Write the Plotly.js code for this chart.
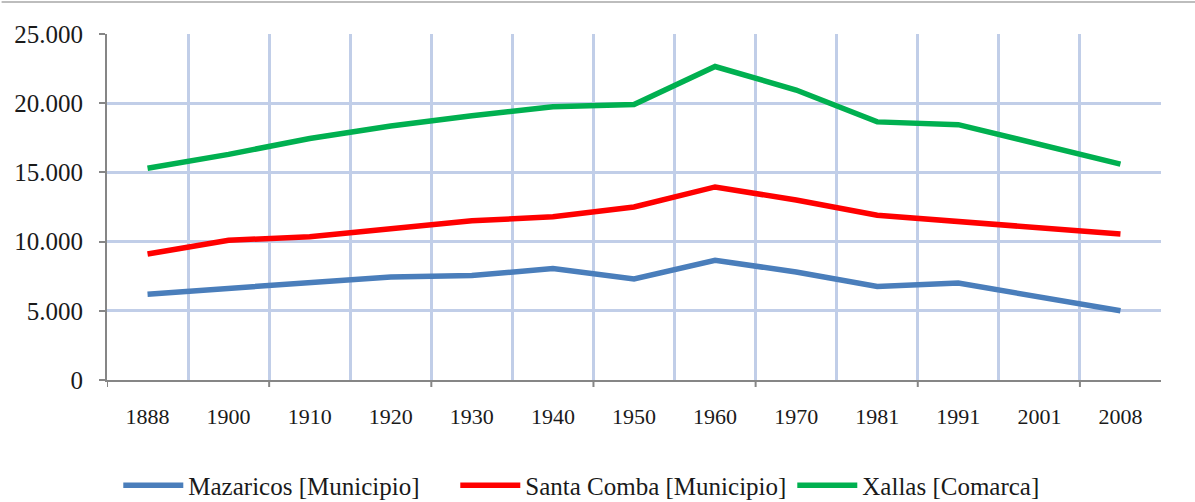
<!DOCTYPE html>
<html>
<head>
<meta charset="utf-8">
<script src="https://cdn.plot.ly/plotly-3.0.1.min.js"></script>
<style>
  html, body { margin: 0; padding: 0; background: #ffffff; }
  #chart { width: 1195px; height: 502px; }
</style>
</head>
<body>
<div id="chart"></div>
<script>
const years = ["1888", "1900", "1910", "1920", "1930", "1940", "1950", "1960", "1970", "1981", "1991", "2001", "2008"];
const mazaricos = [6200, 6600, 7000, 7450, 7550, 8050, 7300, 8650, 7800, 6750, 7000, 6000, 5000];
const santaComba = [9100, 10100, 10350, 10900, 11500, 11800, 12500, 13950, 13000, 11900, 11450, 11000, 10550];
const xallas = [15300, 16300, 17450, 18350, 19100, 19750, 19900, 22650, 20950, 18650, 18450, 17000, 15600];
const seriesNames = ["Mazaricos [Municipio]", "Santa Comba [Municipio]", "Xallas [Comarca]"];
const yTicks = [0, 5000, 10000, 15000, 20000, 25000];

const idx = years.map((_, i) => i);
const colors = ["#4a7ebb", "#ff0000", "#00b050"];
const data = [mazaricos, santaComba, xallas].map((vals, k) => ({
  type: "scatter",
  mode: "lines",
  x: idx,
  y: vals,
  name: seriesNames[k],
  line: { color: colors[k], width: 5.5 },
  hoverinfo: "skip"
}));

const fontFam = "Liberation Serif";
const gridCol = "#c1cee8";
const axisCol = "#868686";

const shapes = [];
for (let b = -0.5; b <= years.length - 0.5; b += 2) {
  shapes.push({
    type: "line", xref: "x", yref: "paper", ysizemode: "pixel", yanchor: 0,
    x0: b, x1: b, y0: 0, y1: -7,
    line: { color: axisCol, width: 2 }
  });
}
shapes.push({
  type: "line", xref: "paper", yref: "paper", ysizemode: "pixel", yanchor: 1,
  x0: -0.1, x1: 1.1, y0: 32, y1: 32,
  line: { color: "#bdbdbd", width: 2 }
});

const layout = {
  width: 1195,
  height: 502,
  margin: { l: 107, r: 34, t: 34, b: 122 },
  paper_bgcolor: "#ffffff",
  plot_bgcolor: "#ffffff",
  showlegend: true,
  font: { family: fontFam, color: "#1a1a1a", size: 22 },
  separators: ",.",
  xaxis: {
    range: [-0.5, years.length - 0.5],
    tickmode: "array",
    tickvals: idx,
    ticktext: years,
    ticks: "",
    showgrid: false,
    zeroline: false,
    showline: true,
    linecolor: axisCol,
    linewidth: 2,
    ticklabelstandoff: 16,
    tickfont: { family: fontFam, size: 22, color: "#1a1a1a" },
    minor: {
      tick0: -0.5,
      dtick: 1,
      showgrid: true,
      gridcolor: gridCol,
      gridwidth: 3,
      ticks: ""
    },
    fixedrange: true
  },
  yaxis: {
    range: [0, 25000],
    tickmode: "array",
    tickvals: yTicks,
    tickformat: ",d",
    ticks: "outside",
    ticklen: 6,
    tickwidth: 2,
    tickcolor: axisCol,
    showgrid: true,
    gridcolor: gridCol,
    gridwidth: 3,
    zeroline: false,
    showline: true,
    linecolor: axisCol,
    linewidth: 2,
    ticklabelstandoff: 11,
    tickfont: { family: fontFam, size: 25, color: "#1a1a1a" },
    fixedrange: true
  },
  legend: {
    orientation: "h",
    xref: "container",
    yref: "container",
    x: 0.522,
    xanchor: "center",
    y: 0.033,
    yanchor: "middle",
    font: { family: fontFam, size: 25, color: "#1a1a1a" },
    itemwidth: 60,
    entrywidth: 262,
    traceorder: "normal"
  },
  shapes: shapes
};

Plotly.newPlot("chart", data, layout, { displayModeBar: false, staticPlot: true });
</script>
</body>
</html>
